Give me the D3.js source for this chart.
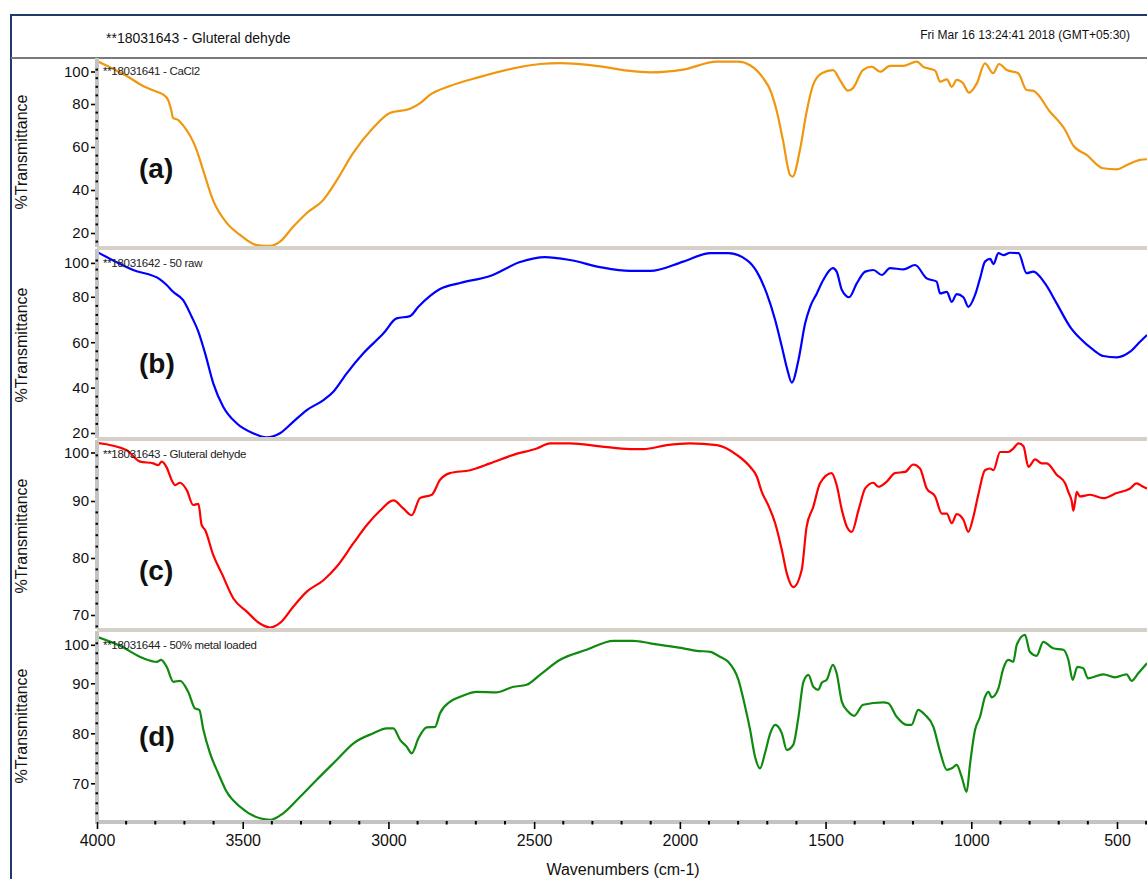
<!DOCTYPE html>
<html><head><meta charset="utf-8">
<script src="https://cdn.jsdelivr.net/npm/d3@7"></script>
<style>body{margin:0;background:#fff}svg{display:block;font-family:Arial,"Liberation Sans",sans-serif}</style>
</head><body><svg id="c" width="1147" height="879"></svg>
<script>
// ---------- data ----------
const headerTitle = "**18031643 - Gluteral dehyde";
const headerDate = "Fri Mar 16 13:24:41 2018 (GMT+05:30)";
const panelLetters = ["(a)", "(b)", "(c)", "(d)"];
const spectrumNames = ["**18031641 - CaCl2", "**18031642 - 50 raw", "**18031643 - Gluteral dehyde", "**18031644 - 50% metal loaded"];
const xTicks = [4000, 3500, 3000, 2500, 2000, 1500, 1000, 500];
const yTicksA = [20, 40, 60, 80, 100];
const yTicksB = [20, 40, 60, 80, 100];
const yTicksC = [70, 80, 90, 100];
const yTicksD = [70, 80, 90, 100];
const xTitle = "Wavenumbers (cm-1)";
const yTitle = "%Transmittance";

// [wavenumber, %T]
const spectrumA = [[4000,100],[3898,93],[3842,88.4],[3795,85.7],[3774,84.5],[3756,81.9],[3745,77],[3739,73.5],[3722,72.6],[3705,70.2],[3658,58.6],[3636,49.3],[3602,35.3],[3555,24.7],[3509,19.1],[3452,14.4],[3406,14],[3372,16],[3327,22.9],[3280,29.3],[3224,35.3],[3177,44.6],[3122,57],[3053,68.8],[2995,75.8],[2926,77.8],[2890,80.5],[2860,84],[2789,88.4],[2686,92.6],[2548,97.2],[2480,98.6],[2411,99],[2274,97.5],[2180,95.5],[2102,94.7],[1989,96],[1873,99.7],[1800,99.7],[1759,98],[1714,92],[1690,86.5],[1667,76.4],[1646,63],[1622,47],[1613,46.2],[1588,58.6],[1565,76.4],[1543,88.8],[1513,94.3],[1474,95.8],[1450,91],[1423,86.2],[1406,87.4],[1372,95.8],[1342,97.4],[1313,95],[1279,97.7],[1234,97.7],[1187,99.7],[1166,97.4],[1124,95.5],[1107,90.4],[1084,91.5],[1067,88],[1050,91.2],[1028,89.6],[1008,85.3],[981,89.6],[953,98.9],[925,94.3],[905,98.6],[878,95.8],[839,94.3],[810,86.5],[788,86.2],[730,76.4],[678,67.9],[651,60.9],[604,56.3],[548,50.1],[501,49.6],[466,51.6],[421,54],[397,54.3]];
const spectrumB = [[4000,99.8],[3876,91.8],[3784,87.7],[3761,85.2],[3739,82.2],[3705,78.6],[3675,71.2],[3652,64.6],[3629,55.1],[3601,41.9],[3567,31.6],[3521,24.3],[3464,19.9],[3418,18.1],[3372,19.9],[3326,25],[3280,30.1],[3223,34.5],[3189,38.2],[3143,46.3],[3086,55.1],[3017,63.9],[2972,70.5],[2926,71.5],[2898,75.5],[2857,80.4],[2823,83.4],[2754,86.1],[2651,89.2],[2548,95.3],[2463,97.5],[2377,96.2],[2274,93.1],[2171,91.4],[2102,91.4],[1988,95.5],[1896,99.2],[1834,99.2],[1770,96.2],[1736,91.1],[1702,81.5],[1673,69.8],[1650,58],[1631,47.8],[1616,42.2],[1593,52.2],[1570,68.3],[1553,75.6],[1530,81.5],[1508,87.4],[1475,92.6],[1462,91.1],[1444,83],[1419,79.8],[1393,85.9],[1364,91.1],[1336,91.8],[1307,89.6],[1279,92.6],[1233,92.1],[1193,94],[1153,88.1],[1119,86.7],[1107,81.5],[1084,82.2],[1067,77.8],[1050,81.2],[1027,79.8],[1010,75.6],[987,80.8],[970,88.1],[953,95.5],[935,96.7],[924,94.4],[907,99.2],[890,98.4],[867,99.4],[838,99.2],[810,90.4],[787,91.1],[747,85.9],[707,77.1],[661,66.8],[627,61.7],[581,56.6],[547,53.9],[501,53.3],[455,55.8],[421,60.2],[397,63.2]];
const spectrumC = [[4000,100.2],[3898,98.9],[3852,96.9],[3807,96.6],[3790,96.3],[3778,96.9],[3761,95.9],[3744,93.7],[3732,92.8],[3715,93.2],[3692,91.9],[3670,89.3],[3652,89.5],[3641,85.8],[3629,84.9],[3601,80.5],[3572,77.3],[3532,72.9],[3486,70.6],[3441,68.5],[3406,67.8],[3372,68.6],[3326,71.5],[3280,74.1],[3223,76.1],[3177,78.5],[3120,82.6],[3074,85.8],[3029,88.3],[2983,90.1],[2949,88.7],[2920,87.5],[2892,90.5],[2851,91.1],[2823,93.7],[2789,94.9],[2720,95.4],[2651,96.6],[2571,98.1],[2491,99.2],[2445,100.1],[2377,100.1],[2274,99.6],[2171,99.1],[2125,99.1],[2045,99.8],[1965,100.1],[1873,99.8],[1805,98.1],[1759,96],[1736,94.3],[1719,91.6],[1697,89.3],[1673,86.1],[1650,81.4],[1633,77.3],[1611,74.9],[1582,77.9],[1565,85.5],[1542,89],[1519,93.1],[1479,94.9],[1462,92.8],[1444,88.4],[1427,85.5],[1410,84.6],[1387,88.4],[1364,92.2],[1336,93.2],[1319,92.5],[1290,93.4],[1262,94.9],[1227,95.1],[1199,96.4],[1176,95.7],[1153,92.2],[1124,90.8],[1101,87.8],[1084,87.8],[1067,86.1],[1050,87.7],[1027,86.7],[1010,84.6],[993,87.2],[976,91.1],[953,95.4],[936,95.7],[924,95.4],[901,98.6],[873,98.6],[856,99.2],[838,100.1],[821,99.6],[804,96],[781,97.3],[758,96.6],[741,96.6],[707,94.6],[678,93.1],[667,91.6],[655,89.9],[650,88.3],[645,89.5],[638,91.6],[627,90.8],[592,91.1],[547,90.5],[501,91.4],[455,92.2],[433,93.1],[410,92.5],[397,92.2]];
const spectrumD = [[4000,99.3],[3921,97.5],[3841,95],[3795,94.3],[3780,94.7],[3761,93.3],[3738,90.3],[3715,90.5],[3687,88.3],[3664,85],[3649,84.7],[3635,80.7],[3612,76],[3584,72],[3555,68.3],[3509,65.3],[3441,63],[3406,62.7],[3361,64],[3303,67.3],[3246,70.7],[3177,74.7],[3120,78],[3052,80],[3006,81],[2983,81],[2960,78.7],[2937,77.3],[2920,76],[2897,79],[2869,81.2],[2840,81.3],[2823,84],[2789,86.3],[2754,87.3],[2697,88.3],[2628,88.2],[2571,89.3],[2526,89.7],[2480,91.7],[2411,94.7],[2320,96.7],[2228,98.5],[2160,98.5],[2102,98],[2045,97.5],[1988,97],[1942,96.5],[1896,96.3],[1862,95.3],[1834,94.3],[1799,90.7],[1776,85.3],[1759,80.7],[1742,75.3],[1725,73],[1708,76],[1690,80],[1673,81.7],[1650,80],[1633,76.7],[1611,77.7],[1593,83.3],[1576,90.3],[1559,91.7],[1542,89.3],[1525,88.7],[1513,90.1],[1496,90.7],[1475,93.7],[1462,92],[1444,86.3],[1422,84.3],[1402,83.5],[1371,85.7],[1302,86.2],[1285,86],[1256,83.3],[1222,81.7],[1205,81.7],[1182,84.7],[1159,83.7],[1130,81.3],[1107,76.3],[1084,72.7],[1067,73],[1050,73.7],[1033,71.3],[1016,68.3],[1004,74],[987,80.7],[970,83.3],[953,87.3],[941,88.3],[930,87.2],[907,89],[890,93],[873,94.7],[856,94.3],[844,97.7],[816,99.7],[799,96.3],[776,95.5],[753,98.3],[719,97],[684,96.7],[667,94.7],[652,90.7],[636,93.3],[616,93],[599,91],[547,91.8],[507,91.2],[467,91.8],[450,90.5],[427,92],[397,94]];

// ---------- layout ----------
const W = 1147, H = 879;
const svg = d3.select("#c");
const axisX = 95, plotRight = 1147;
const x = d3.scaleLinear().domain([4000, 500]).range([97, 1117]);

const panels = [
  {data: spectrumA, ticks: yTicksA, color: "#f0960f", top: 59, bottom: 246, dom: [20, 100], rng: [233, 61], minor: 4, topShift: 11, letterY: 171, titleY: 152, nameY: 72},
  {data: spectrumB, ticks: yTicksB, color: "#0000ff", top: 250, bottom: 437, dom: [20, 100], rng: [433, 251.4], minor: 4, topShift: 12, letterY: 366, titleY: 345, nameY: 263.5},
  {data: spectrumC, ticks: yTicksC, color: "#ff0000", top: 441, bottom: 628, dom: [70, 100], rng: [615, 444], minor: 2, topShift: 9, letterY: 573, titleY: 536, nameY: 455},
  {data: spectrumD, ticks: yTicksD, color: "#0f8a0f", top: 632, bottom: 821, dom: [70, 100], rng: [783.3, 633.3], minor: 2, topShift: 12, letterY: 739, titleY: 726, nameY: 646}
];

// frame
svg.append("path").attr("d", `M11,${H} V15 H${W}`).attr("fill", "none").attr("stroke", "#1f3a6b").attr("stroke-width", 2);
svg.append("line").attr("x1", 11).attr("x2", W).attr("y1", 58).attr("y2", 58).attr("stroke", "#7a7a7a").attr("stroke-width", 2);
svg.append("text").attr("x", 106).attr("y", 39).attr("dominant-baseline", "middle").attr("font-size", 14).attr("fill", "#111").text(headerTitle);
svg.append("text").attr("x", 1130).attr("y", 36).attr("dominant-baseline", "middle").attr("text-anchor", "end").attr("font-size", 12).attr("fill", "#111").text(headerDate);

const defs = svg.append("defs");

panels.forEach((p, i) => {
  const y = d3.scaleLinear().domain(p.dom).range(p.rng);
  defs.append("clipPath").attr("id", "clip" + i).append("rect")
    .attr("x", 97).attr("y", p.top).attr("width", plotRight - 97).attr("height", p.bottom - p.top);
  const line = d3.line().x(d => x(d[0])).y(d => y(d[1])).curve(d3.curveMonotoneX);
  svg.append("path").datum(p.data).attr("clip-path", `url(#clip${i})`)
    .attr("d", line).attr("fill", "none").attr("stroke", p.color).attr("stroke-width", 2.2).attr("stroke-linejoin", "round");

  // left axis gray bar
  svg.append("rect").attr("x", axisX).attr("y", p.top - 1).attr("width", 4).attr("height", p.bottom - p.top + 2).attr("fill", "#c4c4c4");
  // minor ticks
  const vLo = y.invert(p.bottom), vHi = y.invert(p.top);
  const minors = d3.range(Math.ceil(vLo / p.minor) * p.minor, vHi, p.minor).filter(v => !p.ticks.includes(v));
  svg.append("g").selectAll("line").data(minors).join("line")
    .attr("x1", axisX + 0.5).attr("x2", axisX + 3).attr("y1", d => y(d)).attr("y2", d => y(d))
    .attr("stroke", "#000").attr("stroke-width", 2);
  // major ticks
  const ax = svg.append("g").attr("transform", `translate(${axisX},0)`)
    .call(d3.axisLeft(y).tickValues(p.ticks).tickSize(4).tickPadding(2).tickFormat(d3.format("d")));
  ax.select(".domain").remove();
  ax.selectAll(".tick line").attr("stroke", "#000").attr("stroke-width", 1.6);
  ax.selectAll(".tick text").attr("font-size", 15).attr("font-family", "Arial, 'Liberation Sans', sans-serif").attr("fill", "#111");
  ax.selectAll(".tick").filter(d => d === 100).attr("transform", `translate(0,${y(100) + p.topShift})`);

  // y title
  svg.append("text").attr("transform", `translate(23,${p.titleY}) rotate(-90)`)
    .attr("text-anchor", "middle").attr("dominant-baseline", "middle").attr("font-size", 16).attr("fill", "#111").text(yTitle);
  // panel letter
  svg.append("text").attr("x", 139).attr("y", p.letterY).attr("dominant-baseline", "middle")
    .attr("font-size", 28).attr("font-weight", "bold").attr("fill", "#111").text(panelLetters[i]);
  // spectrum name
  svg.append("text").attr("x", 103).attr("y", p.nameY).attr("dominant-baseline", "middle")
    .attr("font-size", 11.5).attr("fill", "#222").attr("letter-spacing", -0.3).text(spectrumNames[i]);
});

// separators between panels
[246, 437, 628].forEach(yy => {
  svg.append("rect").attr("x", 97).attr("y", yy).attr("width", plotRight - 97).attr("height", 4).attr("fill", "#d5d1c9");
});

// bottom axis
svg.append("rect").attr("x", axisX).attr("y", 820).attr("width", plotRight - axisX).attr("height", 4).attr("fill", "#c4c4c4");
const xMinors = d3.range(3900, 399, -100).filter(v => !xTicks.includes(v));
svg.append("g").selectAll("line").data(xMinors).join("line")
  .attr("x1", d => x(d)).attr("x2", d => x(d)).attr("y1", 821).attr("y2", 824.5)
  .attr("stroke", "#000").attr("stroke-width", 2);
const bx = svg.append("g").attr("transform", "translate(0,822)")
  .call(d3.axisBottom(x).tickValues(xTicks).tickSize(7).tickPadding(6).tickFormat(d3.format("d")));
bx.select(".domain").remove();
bx.selectAll(".tick line").attr("stroke", "#000").attr("stroke-width", 1.6);
bx.selectAll(".tick text").attr("font-size", 16).attr("font-family", "Arial, 'Liberation Sans', sans-serif").attr("fill", "#111");
svg.append("text").attr("x", 623).attr("y", 871).attr("text-anchor", "middle").attr("dominant-baseline", "middle")
  .attr("font-size", 16).attr("fill", "#111").text(xTitle);
</script></body></html>
